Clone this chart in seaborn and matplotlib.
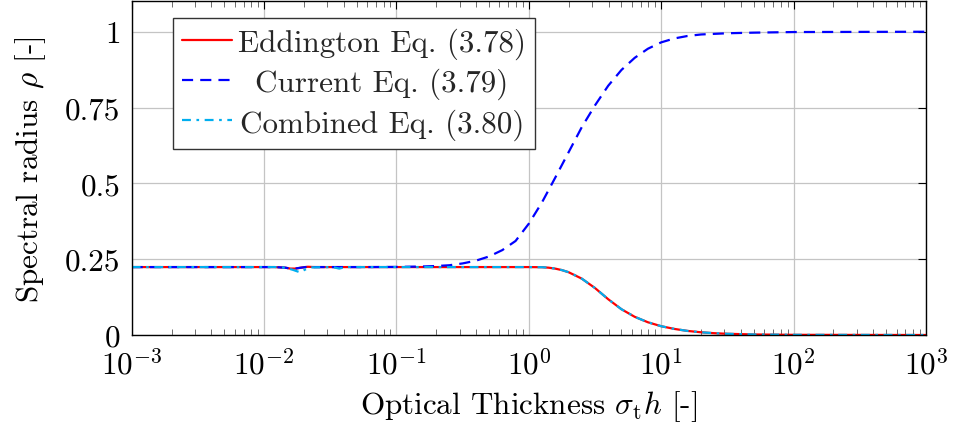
import matplotlib
matplotlib.use("Agg")
import matplotlib.pyplot as plt
import matplotlib.ticker as mticker
import seaborn as sns
import pandas as pd

# ---------------- data ----------------
x_edd = [1e-3, 3e-3, 0.008, 0.012, 0.0145, 0.0158, 0.0172, 0.019, 0.0214, 0.024, 0.03, 0.05,
         0.1, 0.3, 1.0, 1.26, 1.41, 1.58, 1.78, 2.0, 2.51, 3.16, 3.98, 5.01, 6.31, 7.94,
         10, 12.6, 15.8, 20, 25.1, 31.6, 50.1, 100, 1000]
y_edd = [0.224, 0.224, 0.224, 0.224, 0.222, 0.219, 0.219, 0.222, 0.225, 0.224, 0.224, 0.224,
         0.224, 0.224, 0.224, 0.2235, 0.222, 0.219, 0.214, 0.207, 0.186, 0.155, 0.118, 0.085,
         0.060, 0.042, 0.029, 0.020, 0.0135, 0.009, 0.006, 0.004, 0.0018, 0.0006, 0.0]

x_cur = [1e-3, 3e-3, 0.008, 0.012, 0.0145, 0.0158, 0.0172, 0.019, 0.0214, 0.024, 0.03, 0.06,
         0.1, 0.158, 0.2, 0.251, 0.316, 0.398, 0.501, 0.631, 0.794, 1.0, 1.26, 1.58, 2.0,
         2.51, 3.16, 3.98, 5.01, 6.31, 7.94, 10, 12.6, 15.8, 20, 31.6, 50.1, 100, 1000]
y_cur = [0.224, 0.224, 0.224, 0.224, 0.222, 0.219, 0.219, 0.222, 0.225, 0.224, 0.224, 0.224,
         0.2245, 0.226, 0.2275, 0.230, 0.236, 0.245, 0.259, 0.280, 0.310, 0.367, 0.438, 0.518,
         0.603, 0.685, 0.757, 0.822, 0.874, 0.914, 0.944, 0.965, 0.978, 0.986, 0.991, 0.995,
         0.997, 0.999, 1.0]

x_comb = [1e-3, 3e-3, 0.008, 0.012, 0.0145, 0.0165, 0.0186, 0.0205, 0.023, 0.033, 0.037, 0.041,
          0.1, 0.3, 1.0, 1.26, 1.41, 1.58, 1.78, 2.0, 2.51, 3.16, 3.98, 5.01, 6.31, 7.94,
          10, 12.6, 15.8, 20, 25.1, 31.6, 50.1, 100, 1000]
y_comb = [0.224, 0.224, 0.224, 0.224, 0.222, 0.215, 0.207, 0.216, 0.223, 0.224, 0.219, 0.224,
          0.224, 0.224, 0.224, 0.2235, 0.222, 0.219, 0.214, 0.207, 0.186, 0.155, 0.118, 0.085,
          0.060, 0.042, 0.029, 0.020, 0.0135, 0.009, 0.006, 0.004, 0.0018, 0.0006, 0.0]

labels = ["Eddington Eq. (3.78)", "Current Eq. (3.79)", "Combined Eq. (3.80)"]
y_ticks = [0, 0.25, 0.5, 0.75, 1]
y_tick_labels = ["0", "0.25", "0.5", "0.75", "1"]
x_ticks = [1e-3, 1e-2, 1e-1, 1e0, 1e1, 1e2, 1e3]
x_tick_labels = [r"$10^{-3}$", r"$10^{-2}$", r"$10^{-1}$", r"$10^{0}$", r"$10^{1}$",
                 r"$10^{2}$", r"$10^{3}$"]

# ---------------- style ----------------
sns.set_theme(style="white")
plt.rcParams["font.family"] = ["cmr10", "DejaVu Serif"]
plt.rcParams["mathtext.fontset"] = "cm"
plt.rcParams["axes.formatter.use_mathtext"] = True
plt.rcParams["axes.unicode_minus"] = False

FS = 22.4

fig, ax = plt.subplots(figsize=(9.54, 4.31), dpi=100)
fig.subplots_adjust(left=0.138, right=0.9706, bottom=0.2204, top=0.9944)

df_e = pd.DataFrame({"x": x_edd, "y": y_edd})
df_c = pd.DataFrame({"x": x_cur, "y": y_cur})
df_m = pd.DataFrame({"x": x_comb, "y": y_comb})

lw = 1.6
sns.lineplot(data=df_e, x="x", y="y", ax=ax, color="#ff0000", lw=lw,
             linestyle="-", label=labels[0], sort=False, estimator=None)
sns.lineplot(data=df_c, x="x", y="y", ax=ax, color="#0000ff", lw=lw,
             linestyle=(0, (5, 3.2)), label=labels[1], sort=False, estimator=None)
sns.lineplot(data=df_m, x="x", y="y", ax=ax, color="#00aeef", lw=lw,
             linestyle=(0, (4, 2.5, 1.2, 2.5)), label=labels[2], sort=False, estimator=None)

ax.set_xscale("log")
ax.set_xlim(1e-3, 1e3)
ax.set_ylim(0, 1.1)
ax.set_xticks(x_ticks)
ax.set_xticklabels(x_tick_labels)
ax.xaxis.set_minor_locator(mticker.LogLocator(base=10, subs=range(2, 10), numticks=100))
ax.xaxis.set_minor_formatter(mticker.NullFormatter())
ax.set_yticks(y_ticks)
ax.set_yticklabels(y_tick_labels)

ax.grid(True, which="major", color="#c4c4c4", lw=0.9)
ax.set_axisbelow(True)
for s in ax.spines.values():
    s.set_color("black")
    s.set_linewidth(1.0)

ax.tick_params(axis="both", which="major", direction="in", length=6, width=0.8,
               colors="black", labelsize=FS, top=True, right=True)
ax.tick_params(axis="x", which="major", pad=10)
ax.tick_params(axis="y", which="major", pad=8)
ax.tick_params(axis="x", which="minor", direction="in", length=4.3, width=0.6,
               color="#555555", top=True, bottom=True)

ax.set_xlabel(r"Optical Thickness $\sigma_{\rm t}h$ [-]", fontsize=FS, labelpad=6, color="black")
ax.set_ylabel(r"Spectral radius $\rho$ [-]", fontsize=FS, labelpad=12, color="black")

leg = ax.legend(loc="upper left", bbox_to_anchor=(0.0516, 0.949), borderaxespad=0,
                fontsize=FS, frameon=True, fancybox=False, edgecolor="#333333",
                framealpha=1, handlelength=1.6, handletextpad=0.2,
                labelspacing=0.28, borderpad=0.3)
leg.get_frame().set_linewidth(1.0)

# center legend entries (as in pgfplots)
fig.canvas.draw()
r = fig.canvas.get_renderer()
texts = leg.get_texts()
widths = [t.get_window_extent(r).width for t in texts]
wmax = max(widths)
for t, w in zip(texts, widths):
    t.set_position(((wmax - w) / 2.0, 0))

fig.savefig("out.png", dpi=100)
